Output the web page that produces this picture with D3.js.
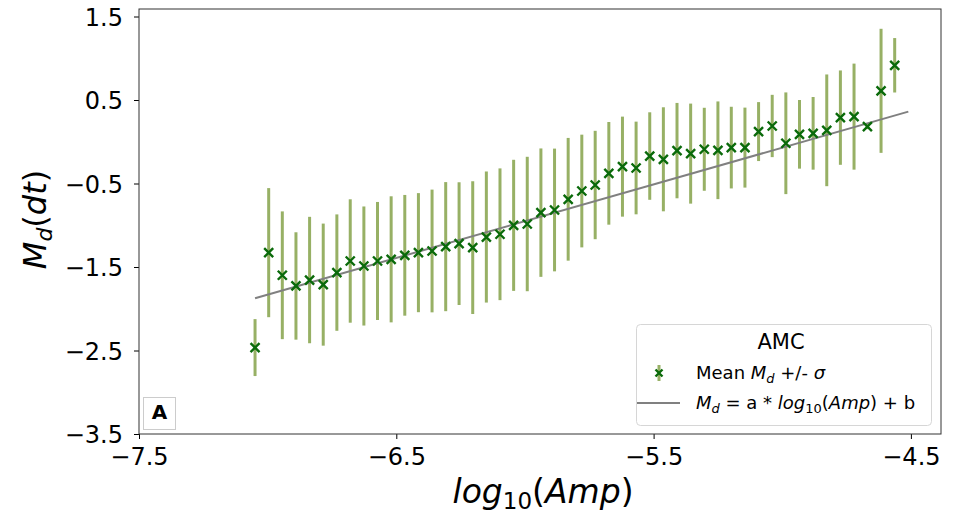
<!DOCTYPE html>
<html>
<head>
<meta charset="utf-8">
<script src="https://cdn.jsdelivr.net/npm/d3@7"></script>
<style>
  body { margin: 0; background: #fff; }
  svg { font-family: "DejaVu Sans", sans-serif; }
</style>
</head>
<body>
<div id="chart"></div>
<script>
// log10(Amp) bin centres
const logAmp = [
  -7.049, -6.996, -6.943, -6.890, -6.837, -6.784, -6.731, -6.679, -6.626, -6.573, -6.520, -6.467,
  -6.414, -6.361, -6.308, -6.256, -6.203, -6.150, -6.097, -6.044, -5.991, -5.938, -5.885, -5.832,
  -5.779, -5.727, -5.674, -5.621, -5.568, -5.515, -5.462, -5.409, -5.356, -5.303, -5.250, -5.198,
  -5.145, -5.092, -5.039, -4.986, -4.933, -4.880, -4.827, -4.774, -4.721, -4.669, -4.616, -4.563
];
// mean Md per bin
const meanMd = [
  -2.465, -1.328, -1.599, -1.727, -1.656, -1.711, -1.567, -1.428, -1.488, -1.428, -1.408, -1.360,
  -1.328, -1.308, -1.256, -1.220, -1.268, -1.141, -1.108, -1.001, -0.985, -0.849, -0.817, -0.689,
  -0.590, -0.518, -0.378, -0.298, -0.314, -0.171, -0.210, -0.106, -0.142, -0.090, -0.102, -0.070,
  -0.070, 0.122, 0.189, -0.018, 0.089, 0.101, 0.137, 0.289, 0.301, 0.181, 0.610, 0.916
];
// standard deviation per bin
const sigmaMd = [
  0.341, 0.773, 0.765, 0.643, 0.757, 0.731, 0.697, 0.739, 0.713, 0.707, 0.755, 0.723,
  0.713, 0.735, 0.773, 0.735, 0.795, 0.785, 0.789, 0.785, 0.805, 0.769, 0.735, 0.735,
  0.675, 0.649, 0.615, 0.599, 0.555, 0.524, 0.623, 0.571, 0.599, 0.497, 0.585, 0.489,
  0.479, 0.353, 0.373, 0.609, 0.411, 0.435, 0.669, 0.565, 0.635, 0.030, 0.743, 0.326
];
// fitted line end points
const fitX = [-7.049, -4.510];
const fitY = [-1.875, 0.361];

const xTicks = [-7.5, -6.5, -5.5, -4.5];
const yTicks = [1.5, 0.5, -0.5, -1.5, -2.5, -3.5];

const width = 958, height = 515;
const margin = { left: 139, right: 17, top: 9, bottom: 81 };

const svg = d3.select('#chart').append('svg')
    .attr('width', width)
    .attr('height', height);

const x = d3.scaleLinear()
    .domain([-7.5, -4.383])
    .range([margin.left, width - margin.right]);

const y = d3.scaleLinear()
    .domain([-3.5, 1.59])
    .range([height - margin.bottom, margin.top]);

const fmt = d => d3.format('.1f')(d).replace('-', '\u2212');

// axes
const xAxis = svg.append('g')
    .attr('transform', `translate(0,${height - margin.bottom})`)
    .call(d3.axisBottom(x).tickValues(xTicks).tickFormat(fmt).tickSize(5).tickPadding(6));
const yAxis = svg.append('g')
    .attr('transform', `translate(${margin.left},0)`)
    .call(d3.axisLeft(y).tickValues(yTicks).tickFormat(fmt).tickSize(5).tickPadding(11));

[xAxis, yAxis].forEach(a => {
    a.select('.domain').remove();
    a.selectAll('text')
        .attr('fill', '#000')
        .style('font-family', '"DejaVu Sans", sans-serif')
        .style('font-size', '24px');
    a.selectAll('line').attr('stroke', '#000').attr('stroke-width', 1);
});
xAxis.selectAll('text').attr('dy', '0.85em');
yAxis.selectAll('text').attr('dy', '0.36em');

// plot frame
svg.append('rect')
    .attr('x', x.range()[0])
    .attr('y', y.range()[1])
    .attr('width', x.range()[1] - x.range()[0])
    .attr('height', y.range()[0] - y.range()[1])
    .attr('fill', 'none')
    .attr('stroke', '#333')
    .attr('stroke-width', 1);

const data = logAmp.map((v, i) => ({ x: v, m: meanMd[i], s: sigmaMd[i] }));

// error bars
svg.append('g').selectAll('line')
    .data(data)
    .join('line')
    .attr('x1', d => x(d.x))
    .attr('x2', d => x(d.x))
    .attr('y1', d => y(d.m + d.s))
    .attr('y2', d => y(d.m - d.s))
    .attr('stroke', '#6b8e23')
    .attr('stroke-opacity', 0.7)
    .attr('stroke-width', 3);

// fit line
svg.append('line')
    .attr('x1', x(fitX[0])).attr('y1', y(fitY[0]))
    .attr('x2', x(fitX[1])).attr('y2', y(fitY[1]))
    .attr('stroke', '#808080')
    .attr('stroke-width', 2);

// x markers
const cross = 'M-4.5,-4.5L4.5,4.5M-4.5,4.5L4.5,-4.5';
svg.append('g').selectAll('path')
    .data(data)
    .join('path')
    .attr('transform', d => `translate(${x(d.x)},${y(d.m)})`)
    .attr('d', cross)
    .attr('stroke', '#0a6a0a')
    .attr('stroke-width', 2.4)
    .attr('fill', 'none');

// panel label "A"
svg.append('rect')
    .attr('x', 143.5).attr('y', 397.5)
    .attr('width', 32).attr('height', 32)
    .attr('fill', '#fff')
    .attr('stroke', '#ccc');
svg.append('text')
    .attr('x', 159.5).attr('y', 419)
    .attr('text-anchor', 'middle')
    .style('font-size', '20px')
    .style('font-weight', 'bold')
    .text('A');

// legend
const lg = svg.append('g');
lg.append('rect')
    .attr('x', 636.5).attr('y', 324.5)
    .attr('width', 295).attr('height', 101)
    .attr('rx', 4)
    .attr('fill', '#fff')
    .attr('fill-opacity', 0.8)
    .attr('stroke', '#d6d6d6');
lg.append('text')
    .attr('x', 781).attr('y', 348.5)
    .attr('text-anchor', 'middle')
    .style('font-size', '21px')
    .text('AMC');

lg.append('line')
    .attr('x1', 659).attr('x2', 659)
    .attr('y1', 365).attr('y2', 381)
    .attr('stroke', '#6b8e23').attr('stroke-opacity', 0.7).attr('stroke-width', 3);
lg.append('path')
    .attr('transform', 'translate(659,373)')
    .attr('d', 'M-3.5,-3.5L3.5,3.5M-3.5,3.5L3.5,-3.5')
    .attr('stroke', '#0a6a0a').attr('stroke-width', 2.4).attr('fill', 'none');

const t1 = lg.append('text').attr('x', 696).attr('y', 379).style('font-size', '18px');
t1.append('tspan').text('Mean ');
t1.append('tspan').style('font-style', 'italic').text('M');
t1.append('tspan').style('font-style', 'italic').style('font-size', '13px').attr('dy', 4).text('d');
t1.append('tspan').attr('dy', -4).text(' +/- ');
t1.append('tspan').style('font-style', 'italic').text('\u03c3');

lg.append('line')
    .attr('x1', 637).attr('x2', 680)
    .attr('y1', 403).attr('y2', 403)
    .attr('stroke', '#808080').attr('stroke-width', 2);

const t2 = lg.append('text').attr('x', 696).attr('y', 409).style('font-size', '18px');
t2.append('tspan').style('font-style', 'italic').text('M');
t2.append('tspan').style('font-style', 'italic').style('font-size', '13px').attr('dy', 4).text('d');
t2.append('tspan').attr('dy', -4).text(' = a * ');
t2.append('tspan').style('font-style', 'italic').text('log');
t2.append('tspan').style('font-size', '13px').attr('dy', 4).text('10');
t2.append('tspan').attr('dy', -4).text('(');
t2.append('tspan').style('font-style', 'italic').text('Amp');
t2.append('tspan').text(') + b');

// x label
const xl = svg.append('text')
    .attr('x', 543)
    .attr('y', 503)
    .attr('text-anchor', 'middle')
    .style('font-size', '33px');
xl.append('tspan').style('font-style', 'italic').text('log');
xl.append('tspan').style('font-size', '23px').attr('dy', 6).text('10');
xl.append('tspan').attr('dy', -6).text('(');
xl.append('tspan').style('font-style', 'italic').text('Amp');
xl.append('tspan').text(')');

// y label
const yl = svg.append('text')
    .attr('transform', `translate(46,${(y.range()[0] + y.range()[1]) / 2 - 2}) rotate(-90)`)
    .attr('text-anchor', 'middle')
    .style('font-size', '32px');
yl.append('tspan').style('font-style', 'italic').text('M');
yl.append('tspan').style('font-style', 'italic').style('font-size', '22px').attr('dy', 6).text('d');
yl.append('tspan').attr('dy', -6).text('(');
yl.append('tspan').style('font-style', 'italic').text('dt');
yl.append('tspan').text(')');
</script>
</body>
</html>
